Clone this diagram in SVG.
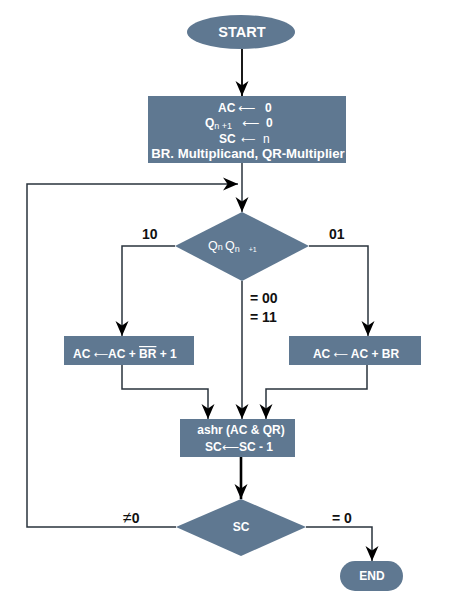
<svg xmlns="http://www.w3.org/2000/svg" width="471" height="600" viewBox="0 0 471 600">
<style>
.n{fill:#5f7891;}
.t{fill:#ffffff;font-family:"Liberation Sans",Arial,sans-serif;font-weight:bold;font-size:12px;}
.l{fill:#111111;font-family:"Liberation Sans",Arial,sans-serif;font-weight:bold;font-size:14px;}
.c{fill:none;stroke:#2a333d;stroke-width:1.5;}
.k{fill:none;stroke:#000000;stroke-width:1.8;}
.ar{font-family:"DejaVu Sans",sans-serif;font-weight:normal;}
</style>
<defs>
<marker id="ah" markerUnits="userSpaceOnUse" markerWidth="16" markerHeight="16" viewBox="0 0 16 16" refX="15" refY="8" orient="auto">
<path d="M0,1.5 L15,8 L0,14.5 L4.5,8 z" fill="#000"/>
</marker>
</defs>
<rect width="471" height="600" fill="#ffffff"/>
<g id="connectors">
<line class="k" x1="242" y1="49" x2="242" y2="96" marker-end="url(#ah)"/>
<line class="c" x1="242" y1="163" x2="242" y2="212" marker-end="url(#ah)"/>
<polyline class="c" points="176,527 27,527 27,184 238,184" marker-end="url(#ah)"/>
<polyline class="c" points="175,246 122,246 122,336" marker-end="url(#ah)"/>
<polyline class="c" points="309,246 368,246 368,336" marker-end="url(#ah)"/>
<line class="c" x1="242" y1="281" x2="242" y2="419" marker-end="url(#ah)"/>
<polyline class="c" points="122,365 122,389 208,389 208,419" marker-end="url(#ah)"/>
<polyline class="c" points="367,365 367,389 266,389 266,419" marker-end="url(#ah)"/>
<line x1="241" y1="457" x2="241" y2="499" stroke="#000" stroke-width="2.6" marker-end="url(#ah)"/>
<polyline class="c" points="306,527 372,527 372,561" marker-end="url(#ah)"/>
<text class="l" x="142" y="239">10</text>
<text class="l" x="329" y="239">01</text>
<text class="l" x="250" y="303">= 00</text>
<text class="l" x="250" y="322">= 11</text>
<text class="l" x="123" y="523"><tspan style="font-weight:normal;font-size:16px">≠</tspan>0</text>
<text class="l" x="332" y="523">= 0</text>
</g>
<g id="start">
<ellipse class="n" cx="241" cy="32" rx="54" ry="17"/>
<text class="t" x="242" y="37" text-anchor="middle" style="font-size:14.5px">START</text>
</g>
<g id="init">
<rect class="n" x="148" y="96" width="198" height="67"/>
<text class="t" y="112"><tspan x="218">AC</tspan><tspan x="238" class="ar">⟵</tspan><tspan x="265">0</tspan></text>
<text class="t" y="127"><tspan x="205">Q</tspan><tspan style="font-size:9px;font-weight:normal" dy="1.5">n +1</tspan><tspan x="242" dy="-1.5" class="ar">⟵</tspan><tspan x="266">0</tspan></text>
<text class="t" y="143"><tspan x="219">SC</tspan><tspan x="241" class="ar" style="font-size:10px">⟵</tspan><tspan x="263" style="font-weight:normal">n</tspan></text>
<text class="t" x="248" y="158" text-anchor="middle" style="font-size:13.2px">BR. Multiplicand, QR-Multiplier</text>
</g>
<g id="decision1">
<polygon class="n" points="242,212 309,246 242,281 175,246"/>
<text class="t" y="250" style="font-weight:normal;font-size:12.5px"><tspan x="208">Q</tspan><tspan style="font-size:9px">n</tspan><tspan x="225">Q</tspan><tspan style="font-size:9px" dy="1.5">n</tspan><tspan style="font-size:7px" dx="9">+1</tspan></text>
</g>
<g id="sub">
<rect class="n" x="64" y="336" width="130" height="29"/>
<text class="t" x="73" y="358">AC <tspan class="ar" style="font-size:10px">⟵</tspan>AC + <tspan text-decoration="overline">BR</tspan> + 1</text>
</g>
<g id="add">
<rect class="n" x="289" y="336" width="132" height="29"/>
<text class="t" x="356" y="358" text-anchor="middle">AC <tspan class="ar" style="font-size:10px">⟵</tspan> AC + BR</text>
</g>
<g id="shift">
<rect class="n" x="180" y="419" width="115" height="38"/>
<text class="t" x="241" y="434" text-anchor="middle">ashr (AC &amp; QR)</text>
<text class="t" x="239" y="451" text-anchor="middle">SC<tspan class="ar">⟵</tspan>SC - 1</text>
</g>
<g id="decision2">
<polygon class="n" points="241,499 306,527 241,556 176,527"/>
<text class="t" x="241" y="531" text-anchor="middle">SC</text>
</g>
<g id="end">
<rect class="n" x="340" y="561" width="63" height="30" rx="15" ry="15"/>
<text class="t" x="372" y="580" text-anchor="middle">END</text>
</g>
</svg>
